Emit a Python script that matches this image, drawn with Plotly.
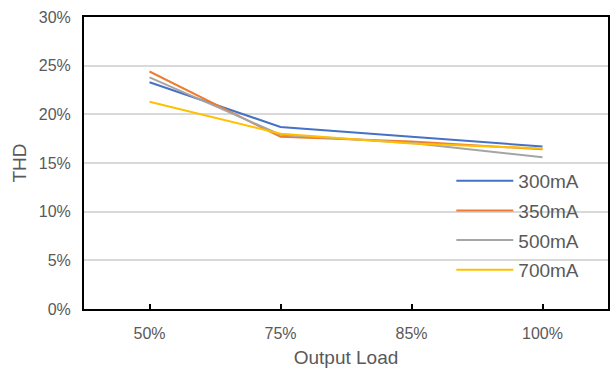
import plotly.graph_objects as go

# Output load categories and THD (%) per drive current
loads = ["50%", "75%", "85%", "100%"]
thd_300mA = [23.3, 18.7, 17.7, 16.7]
thd_350mA = [24.4, 17.7, 17.2, 16.4]
thd_500mA = [23.8, 17.9, 17.05, 15.6]
thd_700mA = [21.3, 18.0, 17.0, 16.5]

series_names = ["300mA", "350mA", "500mA", "700mA"]
series_colors = ["#4472C4", "#ED7D31", "#A5A5A5", "#FFC000"]
series_values = [thd_300mA, thd_350mA, thd_500mA, thd_700mA]

y_tick_values = [0, 5, 10, 15, 20, 25, 30]
y_tick_labels = ["0%", "5%", "10%", "15%", "20%", "25%", "30%"]

FONT = "Liberation Sans, Arial, sans-serif"
TEXT = "#595959"

fig = go.Figure()
for name, color, vals in zip(series_names, series_colors, series_values):
    fig.add_trace(go.Scatter(
        x=loads, y=vals, name=name, mode="lines", legendgroup=name,
        line=dict(color=color, width=2),
    ))

fig.update_layout(
    width=612, height=370,
    margin=dict(l=84, r=2, t=17, b=61),
    paper_bgcolor="white", plot_bgcolor="white",
    font=dict(family=FONT, color=TEXT, size=16),
    legend=dict(
        x=0.701, y=0.504, xanchor="left", yanchor="top",
        bgcolor="rgba(0,0,0,0)", borderwidth=0,
        font=dict(size=19, color=TEXT, family=FONT),
        itemwidth=57, tracegroupgap=2,
    ),
    showlegend=True,
)

fig.update_xaxes(
    type="category", range=[-0.5, 3.5],
    showline=True, linecolor="black", linewidth=2, mirror=True,
    ticks="inside", ticklen=5, tickcolor="black", tickwidth=1.5,
    showgrid=False,
    ticklabelstandoff=9,
    tickfont=dict(size=16, color=TEXT),
    title=dict(text="Output Load", font=dict(size=19, color=TEXT), standoff=9),
)

fig.update_yaxes(
    range=[0, 30], tickmode="array",
    tickvals=y_tick_values, ticktext=y_tick_labels,
    showline=True, linecolor="black", linewidth=2, mirror=True,
    showgrid=True, gridcolor="#D9D9D9", gridwidth=1.5,
    zeroline=False, ticks="",
    ticklabelstandoff=8,
    tickfont=dict(size=16, color=TEXT),
    title=dict(text="THD", font=dict(size=19, color=TEXT), standoff=7),
)

fig.write_html("out.html")
